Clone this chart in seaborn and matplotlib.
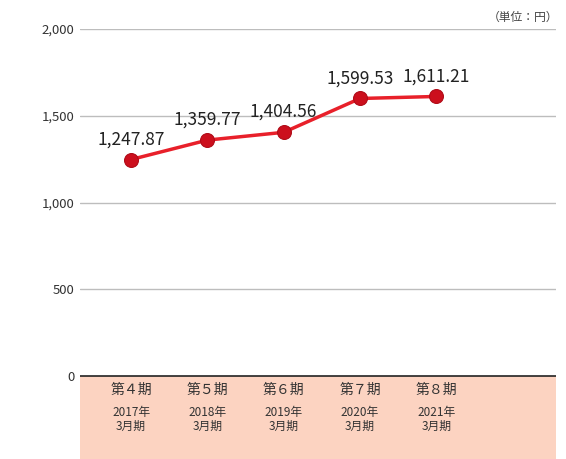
import matplotlib
matplotlib.use("Agg")
import matplotlib.pyplot as plt
import seaborn as sns
import pandas as pd

periods = ["第４期", "第５期", "第６期", "第７期", "第８期"]
years = ["2017年", "2018年", "2019年", "2020年", "2021年"]
months = ["3月期", "3月期", "3月期", "3月期", "3月期"]
values = [1247.87, 1359.77, 1404.56, 1599.53, 1611.21]
yticks = [0, 500, 1000, 1500, 2000]

sns.set_theme(style="white")
plt.rcParams['font.family'] = ['Noto Sans CJK JP', 'DejaVu Sans']

df = pd.DataFrame({"x": range(len(values)), "value": values})

fig = plt.figure(figsize=(5.66, 4.59), dpi=100)
ax = fig.add_axes([80 / 566, 0, 476 / 566, 430 / 459])

# pink band under the zero line
ax.axhspan(-500, 0, color="#fcd3c1", zorder=0, lw=0)
for t in yticks[1:]:
    ax.axhline(t, color="#bdbdbd", lw=1, zorder=1)
ax.axhline(0, color="#222222", lw=1.2, zorder=2)

sns.lineplot(data=df, x="x", y="value", ax=ax, color="#e8202a", lw=2.5,
             marker="o", markersize=10, markerfacecolor="#cc0f1d",
             markeredgecolor="#b00c18", markeredgewidth=0.8, zorder=3)

for i, v in enumerate(values):
    ax.text(i, v + 65, f"{v:,.2f}", ha="center", va="bottom", fontsize=12.5, color="#222222")
    ax.text(i, -40, periods[i], ha="center", va="top", fontsize=10, color="#333333")
    ax.text(i, -170, years[i], ha="center", va="top", fontsize=8.5, color="#333333")
    ax.text(i, -250, months[i], ha="center", va="top", fontsize=8.5, color="#333333")

ax.set_xlim(-0.67, 5.57)
ax.set_ylim(-478, 2000)
ax.set_xticks([])
ax.set_yticks(yticks)
ax.set_yticklabels([f"{t:,}" for t in yticks], fontsize=9.5, color="#333333")
ax.tick_params(axis="y", length=0, pad=4)
ax.set_xlabel("")
ax.set_ylabel("")
for s in ax.spines.values():
    s.set_visible(False)

fig.text(558 / 566, 1 - 17 / 459, "（単位：円）", ha="right", va="center", fontsize=8.5, color="#444444")

fig.savefig("out.png", dpi=100)
